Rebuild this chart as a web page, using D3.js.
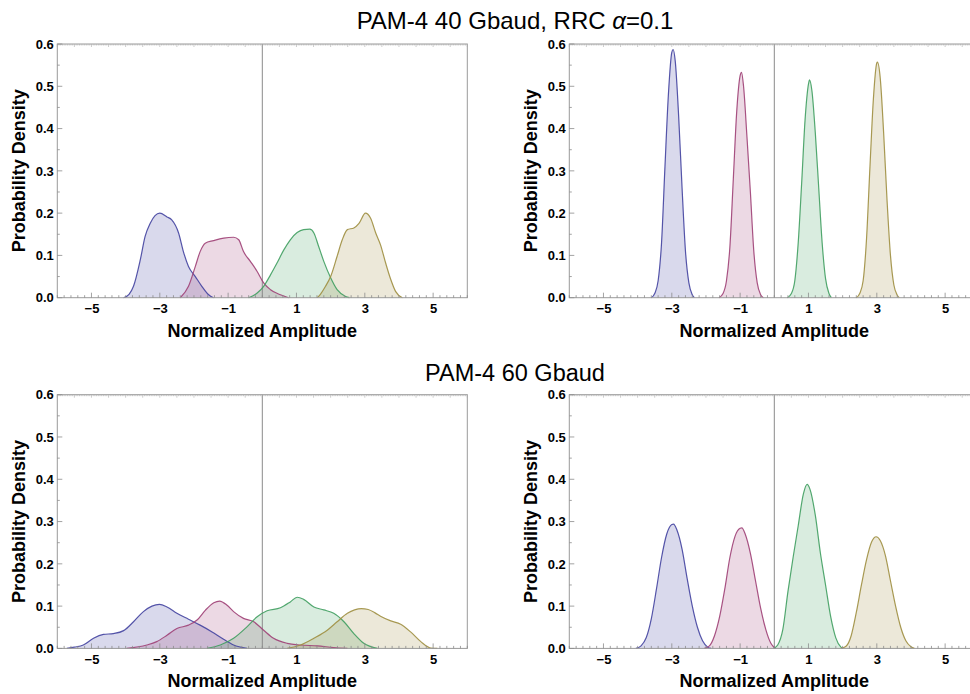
<!DOCTYPE html>
<html><head><meta charset="utf-8">
<script src="https://cdn.jsdelivr.net/npm/d3@7"></script>
<style>
body{margin:0;background:#fff}
svg{display:block}
text{font-family:"Liberation Sans", Arial, sans-serif}
</style>
</head><body>
<svg id="c" width="970" height="694"></svg>
<script>
// ---- data ----
const levels = ["-3", "-1", "+1", "+3"];
const seriesColors = ["rgb(66,66,160)", "rgb(158,64,118)", "rgb(64,158,96)", "rgb(158,142,64)"];
const xTicks = [-5, -3, -1, 1, 3, 5];
const yTicks = [0, 0.1, 0.2, 0.3, 0.4, 0.5, 0.6];
const titles = ["PAM-4 40 Gbaud, RRC ", "PAM-4 60 Gbaud"];

// 40 Gbaud, left panel
const g40L_m3 = [[-4.06,0],[-3.9,0.008],[-3.77,0.027],[-3.57,0.09],[-3.43,0.145],[-3.28,0.176],[-3.14,0.194],[-3.0,0.2],[-2.79,0.191],[-2.65,0.184],[-2.45,0.153],[-2.31,0.109],[-2.16,0.074],[-1.96,0.05],[-1.77,0.027],[-1.57,0.007],[-1.43,0]];
const g40L_m1 = [[-2.4,0],[-2.16,0.027],[-1.96,0.074],[-1.82,0.109],[-1.67,0.129],[-1.43,0.135],[-1.13,0.141],[-0.84,0.143],[-0.69,0.137],[-0.55,0.109],[-0.35,0.086],[-0.15,0.062],[0.04,0.035],[0.24,0.019],[0.53,0.007],[0.77,0]];
const g40L_p1 = [[-0.4,0],[-0.15,0.011],[0.04,0.027],[0.24,0.054],[0.43,0.082],[0.63,0.113],[0.82,0.137],[1.02,0.154],[1.21,0.161],[1.39,0.162],[1.51,0.153],[1.65,0.121],[1.8,0.086],[2.0,0.047],[2.19,0.019],[2.44,0.003],[2.55,0]];
const g40L_p3 = [[1.61,0],[1.7,0.008],[1.85,0.027],[2.0,0.05],[2.19,0.098],[2.34,0.137],[2.49,0.161],[2.68,0.165],[2.83,0.176],[3.02,0.2],[3.17,0.188],[3.32,0.153],[3.46,0.125],[3.61,0.082],[3.76,0.043],[3.9,0.015],[4.1,0]];

// 40 Gbaud, right panel
const g40R_m3 = [[-3.6,0],[-3.5,0.01],[-3.4,0.04],[-3.3,0.13],[-3.2,0.31],[-3.1,0.48],[-3.0,0.58],[-2.96,0.587],[-2.9,0.56],[-2.8,0.43],[-2.7,0.26],[-2.6,0.11],[-2.5,0.035],[-2.4,0.007],[-2.34,0]];
const g40R_m1 = [[-1.62,0],[-1.5,0.01],[-1.4,0.04],[-1.3,0.12],[-1.2,0.28],[-1.1,0.44],[-1.0,0.525],[-0.96,0.533],[-0.9,0.5],[-0.8,0.38],[-0.7,0.25],[-0.6,0.11],[-0.5,0.035],[-0.4,0.007],[-0.32,0]];
const g40R_p1 = [[0.38,0],[0.5,0.01],[0.6,0.04],[0.7,0.13],[0.8,0.27],[0.9,0.42],[1.0,0.505],[1.03,0.515],[1.1,0.49],[1.2,0.39],[1.3,0.26],[1.4,0.13],[1.5,0.045],[1.6,0.01],[1.67,0]];
const g40R_p3 = [[2.4,0],[2.5,0.01],[2.6,0.04],[2.7,0.14],[2.8,0.31],[2.9,0.47],[3.0,0.555],[3.02,0.557],[3.1,0.52],[3.2,0.39],[3.3,0.23],[3.4,0.1],[3.5,0.03],[3.6,0.006],[3.66,0]];

// 60 Gbaud, left panel
const g60L_m3 = [[-5.72,0],[-5.5,0.003],[-5.24,0.008],[-4.94,0.024],[-4.65,0.033],[-4.36,0.035],[-4.06,0.042],[-3.77,0.063],[-3.48,0.087],[-3.23,0.1],[-3.01,0.104],[-2.79,0.098],[-2.5,0.083],[-2.16,0.069],[-1.82,0.055],[-1.47,0.039],[-1.18,0.024],[-0.84,0.008],[-0.45,0]];
const g60L_m1 = [[-3.97,0],[-3.38,0.008],[-3.09,0.016],[-2.79,0.031],[-2.5,0.047],[-2.16,0.055],[-1.91,0.067],[-1.67,0.09],[-1.42,0.108],[-1.25,0.112],[-1.03,0.102],[-0.84,0.087],[-0.55,0.071],[-0.25,0.063],[0.04,0.043],[0.33,0.024],[0.73,0.012],[1.12,0.008],[1.61,0.006],[2.09,0.002],[2.49,0]];
const g60L_p1 = [[-1.62,0],[-1.23,0.008],[-0.84,0.024],[-0.45,0.051],[-0.15,0.075],[0.14,0.089],[0.53,0.096],[0.82,0.11],[1.02,0.121],[1.21,0.116],[1.51,0.098],[1.8,0.091],[2.09,0.083],[2.39,0.063],[2.68,0.035],[2.97,0.012],[3.37,0]];
const g60L_p3 = [[0.73,0],[1.12,0.008],[1.51,0.024],[1.9,0.043],[2.19,0.063],[2.49,0.083],[2.7,0.091],[2.9,0.094],[3.1,0.092],[3.3,0.084],[3.46,0.076],[3.76,0.065],[4.05,0.057],[4.34,0.039],[4.64,0.016],[4.93,0.001],[5.12,0]];

// 60 Gbaud, right panel
const g60R_m3 = [[-4.05,0],[-3.9,0.006],[-3.75,0.025],[-3.6,0.07],[-3.45,0.14],[-3.3,0.215],[-3.15,0.27],[-3.0,0.293],[-2.95,0.294],[-2.85,0.28],[-2.7,0.235],[-2.55,0.165],[-2.4,0.1],[-2.25,0.05],[-2.1,0.018],[-1.95,0.003],[-1.85,0]];
const g60R_m1 = [[-2.05,0],[-1.9,0.006],[-1.75,0.03],[-1.6,0.075],[-1.45,0.14],[-1.3,0.215],[-1.15,0.265],[-1.0,0.284],[-0.95,0.285],[-0.85,0.27],[-0.7,0.225],[-0.55,0.16],[-0.4,0.095],[-0.25,0.045],[-0.1,0.012],[0.0,0.002],[0.05,0]];
const g60R_p1 = [[-0.02,0],[0.1,0.008],[0.25,0.045],[0.4,0.135],[0.55,0.215],[0.7,0.29],[0.85,0.365],[0.96,0.388],[1.05,0.375],[1.2,0.315],[1.35,0.225],[1.5,0.15],[1.65,0.075],[1.8,0.025],[1.95,0.003],[2.0,0]];
const g60R_p3 = [[1.95,0],[2.1,0.005],[2.25,0.03],[2.4,0.085],[2.55,0.15],[2.7,0.21],[2.85,0.252],[2.98,0.264],[3.1,0.255],[3.25,0.22],[3.4,0.16],[3.55,0.1],[3.7,0.05],[3.85,0.018],[4.0,0.004],[4.1,0]];

// ---- layout ----
const svg = d3.select("#c");
const W = 410, H = 253.7;
const panels = [
  {left: 57.3,  top: 44,    series: [g40L_m3, g40L_m1, g40L_p1, g40L_p3]},
  {left: 569.3, top: 44,    series: [g40R_m3, g40R_m1, g40R_p1, g40R_p3]},
  {left: 57.3,  top: 394.7, series: [g60L_m3, g60L_m1, g60L_p1, g60L_p3]},
  {left: 569.3, top: 394.7, series: [g60R_m3, g60R_m1, g60R_p1, g60R_p3]}
];
const frameColor = "#9a9a9a";
const tickColor = "#8c8c8c";

panels.forEach(p => {
  const x = d3.scaleLinear().domain([-6, 6]).range([p.left, p.left + W]);
  const y = d3.scaleLinear().domain([0, 0.6]).range([p.top + H, p.top]);
  const g = svg.append("g");

  const area = d3.area().x(d => x(d[0])).y0(y(0)).y1(d => y(d[1])).curve(d3.curveMonotoneX);
  const line = d3.line().x(d => x(d[0])).y(d => y(d[1])).curve(d3.curveMonotoneX);

  // fills
  p.series.forEach((s, i) => {
    g.append("path").attr("d", area(s)).attr("fill", seriesColors[i]).attr("fill-opacity", 0.2).attr("stroke", "none");
  });

  // vertical line at 0
  g.append("line").attr("x1", x(0)).attr("x2", x(0)).attr("y1", y(0.6)).attr("y2", y(0))
    .attr("stroke", "#8a8a8a").attr("stroke-width", 1);

  // lines
  p.series.forEach((s, i) => {
    g.append("path").attr("d", line(s)).attr("fill", "none").attr("stroke", seriesColors[i]).attr("stroke-width", 1.2).attr("stroke-opacity", 0.9);
  });

  // frame
  g.append("rect").attr("x", p.left).attr("y", p.top).attr("width", W).attr("height", H)
    .attr("fill", "none").attr("stroke", frameColor).attr("stroke-width", 1);

  // bottom axis
  const bottom = d3.axisBottom(x).tickValues(xTicks).tickSize(0).tickPadding(6).tickFormat(d3.format("d"));
  const bAx = g.append("g").attr("transform", `translate(0,${p.top + H})`).call(bottom);
  bAx.select(".domain").remove();
  bAx.selectAll("text").attr("font-size", 13).attr("font-weight", "bold").attr("fill", "#000")
     .attr("font-family", "Liberation Sans, Arial, sans-serif");

  // bottom ticks (inward)
  const minorX = d3.range(-30, 31).map(k => k * 0.2);
  g.append("g").selectAll("line").data(minorX).join("line")
    .attr("x1", d => x(d)).attr("x2", d => x(d))
    .attr("y1", y(0)).attr("y2", d => y(0) - (xTicks.some(t => Math.abs(t - d) < 1e-6) ? 5 : 2.5))
    .attr("stroke", tickColor).attr("stroke-width", 0.8);

  // top ticks (dense)
  const topT = d3.range(-120, 121).map(k => k * 0.05);
  g.append("g").selectAll("line").data(topT).join("line")
    .attr("x1", d => x(d)).attr("x2", d => x(d))
    .attr("y1", y(0.6)).attr("y2", (d, i) => y(0.6) + ((i % 10 === 0) ? 3 : 1.5))
    .attr("stroke", "#aaaaaa").attr("stroke-width", 0.6);

  // left axis
  const left = d3.axisLeft(y).tickValues(yTicks).tickSize(0).tickPadding(3.5).tickFormat(d3.format(".1f"));
  const lAx = g.append("g").attr("transform", `translate(${p.left},0)`).call(left);
  lAx.select(".domain").remove();
  lAx.selectAll("text").attr("font-size", 13).attr("font-weight", "bold").attr("fill", "#000")
     .attr("font-family", "Liberation Sans, Arial, sans-serif");

  const minorY = d3.range(0, 13).map(k => k * 0.05);
  g.append("g").selectAll("line").data(minorY).join("line")
    .attr("x1", p.left).attr("x2", (d, i) => p.left + (i % 2 === 0 ? 5 : 2.5))
    .attr("y1", d => y(d)).attr("y2", d => y(d))
    .attr("stroke", tickColor).attr("stroke-width", 0.8);

  // axis titles
  g.append("text").attr("x", p.left + W / 2).attr("y", p.top + H + 39)
    .attr("text-anchor", "middle").attr("font-size", 18).attr("font-weight", "bold")
    .text("Normalized Amplitude");
  g.append("text").attr("transform", `translate(${p.left - 32.5},${p.top + H / 2}) rotate(-90)`)
    .attr("text-anchor", "middle").attr("font-size", 18).attr("font-weight", "bold")
    .text("Probability Density");
});

// titles
const t1 = svg.append("text").attr("x", 515).attr("y", 28.5).attr("text-anchor", "middle").attr("font-size", 24);
t1.append("tspan").text(titles[0]);
t1.append("tspan").attr("font-style", "italic").text("α");
t1.append("tspan").text("=0.1");
svg.append("text").attr("x", 515).attr("y", 380.5).attr("text-anchor", "middle").attr("font-size", 23.5).text(titles[1]);
</script>
</body></html>
